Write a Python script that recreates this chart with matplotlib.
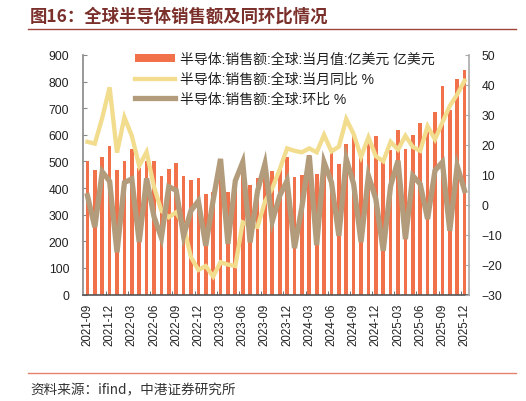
import matplotlib
matplotlib.use("Agg")
import matplotlib.pyplot as plt
import numpy as np
from matplotlib.patches import Patch
from matplotlib.lines import Line2D

plt.rcParams['font.family'] = ['Liberation Sans', 'Noto Sans CJK SC', 'DejaVu Sans']

months = []
for y in range(2021, 2026):
    for m in range(1, 13):
        if (y == 2021 and m < 9):
            continue
        months.append(f"{y}-{m:02d}")

sales = [503, 468, 518, 557, 469, 503, 547, 475, 503, 500, 447, 472,
         495, 444, 431, 437, 378, 384, 443, 385, 410, 468, 413, 437,
         497, 465, 475, 516, 443, 449, 523, 451, 507, 550, 490, 565,
         606, 520, 578, 597, 503, 542, 617, 547, 600, 644, 618, 684,
         782, 695, 808, 845]
yoy = [21.0, 20.4, 29.0, 39.2, 17.4, 29.2, 23.0, 13.0, 17.6, 6.0, -2.0, -4.2,
       -2.5, -7.0, -17.5, -21.8, -20.5, -24.0, -19.2, -20.0, -20.5, -5.9, -7.0, -7.4,
       1.0, 5.5, 11.8, 18.8, 18.0, 17.5, 18.8, 17.5, 23.3, 17.8, 19.4, 28.6,
       23.6, 16.0, 22.5, 16.2, 14.5, 21.0, 18.4, 23.0, 19.3, 18.0, 26.2, 21.8,
       27.5, 33.0, 36.8, 41.4]
mom = [3.0, -7.5, 11.0, 7.8, -15.9, 7.4, 8.6, -12.5, 8.8, -4.0, -11.0, 6.0,
       4.8, -10.4, -2.0, 1.2, -13.7, 1.5, 15.3, -13.1, 8.0, 14.2, -12.6, 4.5,
       13.6, -5.5, 3.0, 8.0, -14.5, -0.8, 16.4, -13.5, 14.2, 7.5, -10.4, 15.3,
       6.9, -12.5, 9.7, 1.9, -15.4, 6.3, 14.7, -11.5, 9.7, 6.9, -4.8, 11.4,
       14.2, -8.7, 13.0, 4.7]

label_bar = "半导体:销售额:全球:当月值:亿美元 亿美元"
label_yoy = "半导体:销售额:全球:当月同比 %"
label_mom = "半导体:销售额:全球:环比 %"
title = "图16：全球半导体销售额及同环比情况"
source = "资料来源：ifind，中港证券研究所"

bar_c = "#F0714A"
yoy_c = "#F2DC8E"
mom_c = "#B39C7B"

fig = plt.figure(figsize=(5.26, 4.02), dpi=100)
ax = fig.add_axes([83/526, 1-295.5/402, (469-83)/526, (295.5-56)/402])
ax2 = ax.twinx()

x = np.arange(len(months))
ax.bar(x, sales, width=0.5, color=bar_c, zorder=2)
ax2.plot(x, yoy, color=yoy_c, lw=3.1, solid_joinstyle='miter', zorder=3)
ax2.plot(x, mom, color=mom_c, lw=3.8, solid_joinstyle='miter', zorder=4)

ax.set_xlim(-0.6, len(months) - 0.4)
ax.set_ylim(0, 900)
ax.set_yticks(np.arange(0, 901, 100))
ax2.set_ylim(-30, 50)
ax2.set_yticks(np.arange(-30, 51, 10))

ax.set_xticks(x[::3])
ax.set_xticklabels(months[::3], rotation=90, fontsize=8.3, color="#222222")
ax.tick_params(axis='x', which='major', length=0, pad=6)
ax.set_xticks(x[::3][1:] - 0.5, minor=True)
ax.tick_params(axis='x', which='minor', length=3, direction='in', color='#555555')
ax.tick_params(axis='y', direction='in', length=3, labelsize=8.7, colors='#222222', pad=10)
ax2.tick_params(axis='y', direction='in', length=3, labelsize=8.7, colors='#222222', pad=9)
for a in (ax, ax2):
    a.spines['top'].set_visible(False)
ax.spines['left'].set_color('#888888')
ax.spines['left'].set_linewidth(1.2)
ax2.spines['right'].set_color('#aaaaaa')
ax2.spines['right'].set_linewidth(1.2)
ax2.spines['left'].set_visible(False)
ax.spines['right'].set_visible(False)
ax2.spines['bottom'].set_visible(False)
ax.spines['bottom'].set_color('#555555')
ax.spines['bottom'].set_linewidth(1.2)
ax.tick_params(axis='y', which='major', color='#888888')
ax2.tick_params(axis='y', which='major', color='#aaaaaa')

handles = [Patch(facecolor=bar_c, edgecolor='none'),
           Line2D([0], [0], color=yoy_c, lw=3.1),
           Line2D([0], [0], color=mom_c, lw=3.8)]
leg = ax2.legend(handles, [label_bar, label_yoy, label_mom],
                 loc='upper left', bbox_to_anchor=(0.12, 1.035), frameon=False,
                 prop={'family': ['Liberation Sans', 'Noto Sans CJK SC'], 'size': 10},
                 handlelength=2.9, handleheight=0.5, handletextpad=0.35, labelspacing=0.42,
                 borderaxespad=0)
for t in leg.get_texts():
    t.set_color('#222222')

fig.text(30/526, 1-17/402, title, fontsize=12.5, fontweight='bold', color='#7A2F2A',
         family=['Noto Sans CJK SC'], va='center', ha='left')
fig.add_artist(Line2D([28/526, 516/526], [1-30/402, 1-30/402], color='#A0443C', lw=1.0))
fig.add_artist(Line2D([28/526, 516/526], [1-374/402, 1-374/402], color='#E3836E', lw=1.0))
fig.text(30/526, 1-390/402, source, fontsize=9.8, color='#333333', style='italic',
         family=['Noto Sans CJK SC'], va='center', ha='left')

fig.savefig("out.png", dpi=100)
